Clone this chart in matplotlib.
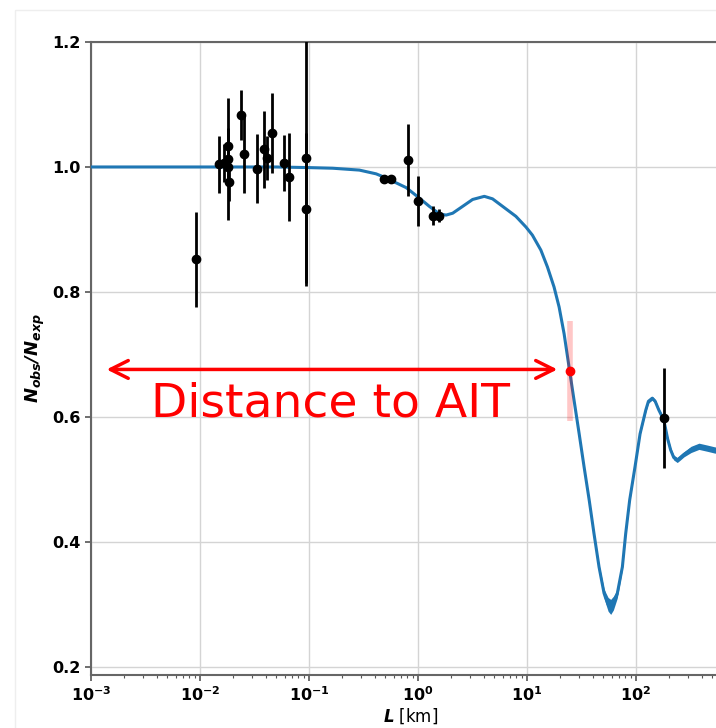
import numpy as np
import matplotlib
matplotlib.use("Agg")
import matplotlib.pyplot as plt
from matplotlib.ticker import FixedLocator, FuncFormatter, LogLocator, NullFormatter
from matplotlib.patches import Rectangle

# ---- measured reactor-antineutrino rates (baseline in km, observed/expected) ----
exp_L = [0.0092, 0.0150, 0.0165, 0.0181, 0.0181, 0.0183, 0.0179,
         0.0240, 0.0252, 0.0333, 0.0387, 0.0410, 0.0454, 0.0585, 0.0655,
         0.093, 0.094, 0.49, 0.57, 0.816, 1.0, 1.38, 1.57, 180.0]
exp_ratio = [0.852, 1.004, 1.006, 1.033, 1.013, 0.976, 1.000,
             1.083, 1.020, 0.997, 1.028, 1.014, 1.055, 1.006, 0.984,
             1.014, 0.932, 0.980, 0.980, 1.011, 0.945, 0.922, 0.922, 0.599]
exp_err = [0.076, 0.045, 0.030, 0.030, 0.098, 0.030, 0.030,
           0.040, 0.062, 0.055, 0.061, 0.035, 0.064, 0.045, 0.070,
           0.200, 0.123, 0.005, 0.005, 0.058, 0.040, 0.015, 0.010, 0.080]

# ---- expected point for the AIT detector ----
ait_L = [24.8]
ait_ratio = [0.674]
ait_err = [0.080]

# ---- averaged survival probability (centre and band half-width) ----
curve_L = [0.001, 0.01, 0.05, 0.1, 0.165, 0.29, 0.413, 0.5, 0.59, 0.778,
           1.0, 1.27, 1.57, 1.81, 2.08, 2.57, 3.17, 4.06, 4.83, 5.97, 7.91,
           9.77, 11.2, 13.4, 15.4, 17.7, 19.7, 21.9, 24.3, 27.0, 30.1, 33.4,
           37.2, 41.2, 45.8, 50.9, 52.7, 55.5, 58.6, 62.0, 67.3, 75.0, 80.4,
           87.5, 97.9, 109.0, 123.0, 130.0, 141.0, 150.0, 162.0, 180.0, 195.0,
           208.0, 222.0, 239.0, 255.0, 275.0, 320.0, 378.0, 450.0, 530.0,
           1000.0]
curve_mid = [1.000, 1.000, 1.000, 0.999, 0.998, 0.995, 0.989, 0.983, 0.977,
             0.967, 0.952, 0.937, 0.925, 0.923, 0.926, 0.937, 0.948, 0.953,
             0.949, 0.937, 0.921, 0.904, 0.891, 0.867, 0.840, 0.808, 0.776,
             0.733, 0.680, 0.627, 0.573, 0.520, 0.467, 0.413, 0.360, 0.318,
             0.310, 0.300, 0.296, 0.302, 0.317, 0.360, 0.413, 0.467, 0.520,
             0.573, 0.611, 0.625, 0.630, 0.625, 0.611, 0.595, 0.565, 0.547,
             0.535, 0.531, 0.535, 0.540, 0.548, 0.553, 0.550, 0.547, 0.550]
curve_hw = [0.0, 0.0, 0.0, 0.0, 0.0, 0.0, 0.0, 0.0, 0.0, 0.0,
            0.0, 0.0, 0.0, 0.0, 0.0, 0.0, 0.0, 0.0, 0.0, 0.0, 0.0,
            0.0, 0.0, 0.0, 0.0, 0.0, 0.001, 0.001, 0.001, 0.002, 0.002, 0.002,
            0.003, 0.003, 0.004, 0.007, 0.009, 0.011, 0.012, 0.011, 0.007,
            0.004, 0.003, 0.003, 0.002, 0.002, 0.003, 0.003, 0.003, 0.003,
            0.003, 0.003, 0.004, 0.004, 0.004, 0.004, 0.004, 0.004, 0.005,
            0.005, 0.005, 0.005, 0.005]

y_ticks = [0.2, 0.4, 0.6, 0.8, 1.0, 1.2]
x_major = [1e-3, 1e-2, 1e-1, 1e0, 1e1, 1e2]

blue = "#1f77b4"

fig = plt.figure(figsize=(7.16, 7.28), dpi=100)
fig.patches.append(Rectangle((15 / 716, -0.1), 1.2, (728 - 10) / 728 + 0.1,
                             transform=fig.transFigure, fill=False,
                             ec="#eeeeee", lw=1.0, zorder=0))

ax = fig.add_axes([91 / 716, 53 / 728, (745 - 91) / 716, 633 / 728])
ax.set_xscale("log")
ax.set_xlim(1e-3, 1e3)
ax.set_ylim(0.187, 1.2)

ax.grid(True, which="major", color="#d4d4d4", lw=1.0)
ax.set_axisbelow(True)

cL = np.array(curve_L)
cm = np.array(curve_mid)
ch = np.array(curve_hw)
ax.fill_between(cL, cm - ch, cm + ch, color=blue, lw=0, zorder=2)
ax.plot(cL, cm, color=blue, lw=2.2, zorder=3, solid_capstyle="round",
        solid_joinstyle="round")

ax.errorbar(exp_L, exp_ratio, yerr=exp_err, fmt="o", color="black",
            ms=6, elinewidth=2, capsize=0, zorder=4)
ax.errorbar(ait_L, ait_ratio, yerr=ait_err, fmt="o", color="red",
            ecolor=(1.0, 0.0, 0.0, 0.22), ms=6, elinewidth=4, capsize=0,
            zorder=5)

# distance arrow and caption
ax.annotate("", xy=(0.00139, 0.676), xytext=(19.0, 0.676),
            arrowprops=dict(arrowstyle="<->", color="red", lw=2.5,
                            mutation_scale=32, shrinkA=0, shrinkB=0),
            zorder=6)
ax.text(0.159, 0.601, "Distance to AIT", color="red", fontsize=34,
        ha="center", va="baseline", zorder=6)

# axes styling
ax.xaxis.set_major_locator(FixedLocator(x_major))
ax.xaxis.set_minor_locator(LogLocator(base=10, subs=np.arange(2, 10), numticks=20))
ax.xaxis.set_minor_formatter(NullFormatter())
ax.xaxis.set_major_formatter(FuncFormatter(
    lambda v, p: r"$\mathbf{10^{%d}}$" % int(round(np.log10(v)))))
ax.yaxis.set_major_locator(FixedLocator(y_ticks))
ax.yaxis.set_major_formatter(FuncFormatter(lambda v, p: "%.1f" % v))

ax.tick_params(axis="both", which="major", labelsize=11.5, length=4,
               width=1.2, color="#555555")
ax.tick_params(axis="x", which="minor", length=2, width=0.8, color="#555555")
for lab in ax.get_yticklabels():
    lab.set_fontweight("bold")

for side in ["left", "top", "bottom", "right"]:
    ax.spines[side].set_color("#666666")
    ax.spines[side].set_linewidth(1.5)

ax.set_xlabel(r"$\mathbfit{L}$ [km]", fontsize=12, labelpad=2, x=0.488)
ax.set_ylabel(r"$\mathbfit{N_{obs}/N_{exp}}$", fontsize=13, labelpad=4)

fig.savefig("out.png", dpi=100)
